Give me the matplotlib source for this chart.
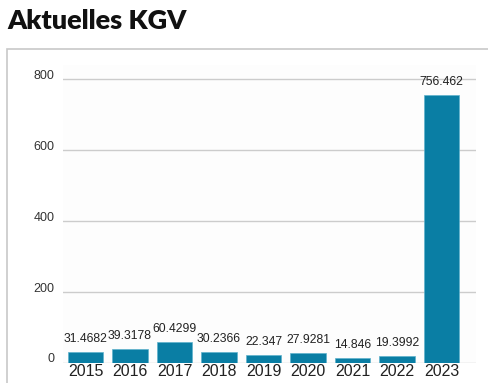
import matplotlib.pyplot as plt
import matplotlib.transforms as mtransforms
from matplotlib.patches import Rectangle

# KGV per year
years = ['2015', '2016', '2017', '2018', '2019', '2020', '2021', '2022', '2023']
kgv = [31.4682, 39.3178, 60.4299, 30.2366, 22.347, 27.9281, 14.846, 19.3992, 756.462]
value_labels = ['31.4682', '39.3178', '60.4299', '30.2366', '22.347', '27.9281', '14.846', '19.3992', '756.462']
y_ticks = [0, 200, 400, 600, 800]

W, H = 488, 383
fig = plt.figure(figsize=(W / 100, H / 100), dpi=100)
fig.patch.set_facecolor('white')

# title and panel frame
fig.text(7 / W, 1 - 21 / H, 'Aktuelles KGV', fontsize=19.5, fontweight='heavy',
         family='Lato', color='#111111', va='center', ha='left')
fig.patches.append(Rectangle((7 / W, -0.1), 1.2, 1 - 49 / H + 0.1, transform=fig.transFigure,
                             fill=False, edgecolor='#c8c8c8', linewidth=1.2))

ax = fig.add_axes([63 / W, 20 / H, (476 - 63) / W, (363 - 65) / H])
ax.set_facecolor('#fdfdfd')

x = list(range(len(years)))
bars = ax.bar(x, kgv, width=0.79, color='#0a7ea4', edgecolor='#5fb2cc', linewidth=0.5, zorder=3)

for xi, v, lab in zip(x, kgv, value_labels):
    ax.annotate(lab, (xi, v), xytext=(0, 5), textcoords='offset points',
                ha='center', va='bottom', fontsize=8.7, family='Liberation Sans',
                color='#222222', clip_on=False, zorder=4)

ax.set_xlim(-0.506, 8.775)
ax.set_ylim(0, 840)
ax.set_yticks(y_ticks)
ax.set_yticklabels([str(t) for t in y_ticks])
ax.set_xticks(x)
ax.set_xticklabels(years)

ax.grid(axis='y', color='#cccccc', linewidth=1, zorder=0)
for s in ax.spines.values():
    s.set_visible(False)
ax.tick_params(axis='both', length=0)
ax.tick_params(axis='y', pad=6, labelsize=9, labelcolor='#333333')
ax.tick_params(axis='x', pad=1, labelsize=11.5, labelcolor='#222222')
for lbl in ax.get_yticklabels():
    lbl.set_family('Liberation Sans')
    lbl.set_transform(lbl.get_transform() + mtransforms.ScaledTranslation(0, 5 / 100, fig.dpi_scale_trans))
for lbl in ax.get_xticklabels():
    lbl.set_family('Liberation Sans')

fig.savefig('out.png', dpi=100)
